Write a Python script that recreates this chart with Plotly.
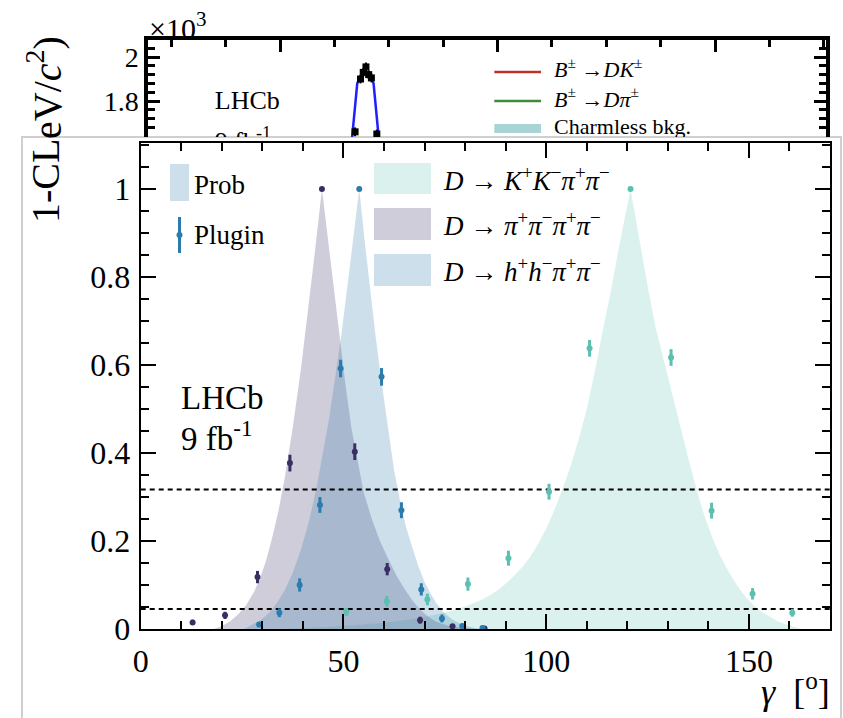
import plotly.graph_objects as go

W, H = 843, 718

# ---------------- main chart data (1-CL vs gamma) ----------------
# "Prob" curves
kk_gamma = [36, 44, 52, 60, 66, 72, 76, 80, 84, 86, 88, 90, 92, 94, 96, 98, 100, 102, 104, 106,
            108, 110, 112, 114, 116, 118, 120.8, 123, 125, 127, 129, 131, 133, 135, 137, 139,
            141, 143, 145, 147, 149, 151, 153, 155, 157, 159, 161, 163]
kk_cl = [0.0, 0.004, 0.008, 0.014, 0.021, 0.031, 0.040, 0.051, 0.066, 0.076, 0.088, 0.103, 0.120,
         0.140, 0.163, 0.193, 0.228, 0.270, 0.317, 0.37, 0.43, 0.50, 0.585, 0.68, 0.77, 0.87, 1.0,
         0.885, 0.78, 0.685, 0.61, 0.54, 0.46, 0.39, 0.32, 0.258, 0.207, 0.165, 0.13, 0.10, 0.075,
         0.055, 0.040, 0.028, 0.018, 0.011, 0.005, 0.0]

pp_gamma = [18, 20, 22, 24, 26, 28, 29.5, 31, 32.5, 34, 35.5, 37.5, 39.5, 41.5, 43, 44.7, 46,
            47.5, 49, 50.5, 52, 53.5, 55, 57, 59, 61, 63, 65, 67, 69, 71, 73, 76, 80, 83]
pp_cl = [0.0, 0.006, 0.017, 0.033, 0.054, 0.085, 0.117, 0.158, 0.21, 0.27, 0.342, 0.458, 0.59,
         0.74, 0.86, 1.0, 0.90, 0.79, 0.67, 0.555, 0.455, 0.38, 0.31, 0.25, 0.20, 0.16, 0.123,
         0.092, 0.065, 0.043, 0.027, 0.016, 0.007, 0.002, 0.0]

hh_gamma = [25.5, 27.5, 29.5, 31.5, 33.5, 35.5, 37.5, 39.5, 41.5, 43.3, 45, 46.5, 48, 49.5, 51,
            52.5, 53.9, 55.2, 56.5, 58, 59.5, 61, 62.5, 64, 65.5, 67, 68.5, 70, 71.5, 73, 74.5,
            76.5, 79, 82, 84]
hh_cl = [0.0, 0.010, 0.020, 0.035, 0.058, 0.088, 0.128, 0.18, 0.245, 0.317, 0.40, 0.48, 0.575,
         0.67, 0.78, 0.895, 1.0, 0.885, 0.775, 0.66, 0.555, 0.46, 0.36, 0.29, 0.23, 0.185, 0.142,
         0.107, 0.080, 0.058, 0.040, 0.024, 0.011, 0.003, 0.0]

# "Plugin" points
pp_pl_gamma = [12.8, 20.8, 28.8, 36.8, 44.7, 52.8, 60.8, 68.9, 76.9, 84.8]
pp_pl_cl = [0.015, 0.031, 0.118, 0.377, 1.0, 0.403, 0.136, 0.020, 0.006, 0.001]
pp_pl_err = [0.006, 0.008, 0.014, 0.019, 0.0, 0.019, 0.014, 0.008, 0.005, 0.003]

hh_pl_gamma = [29.2, 34.2, 39.2, 44.2, 49.3, 53.9, 59.4, 64.3, 69.2, 74.3, 79.3, 84.3]
hh_pl_cl = [0.010, 0.037, 0.100, 0.282, 0.592, 1.0, 0.573, 0.270, 0.090, 0.024, 0.007, 0.002]
hh_pl_err = [0.006, 0.010, 0.015, 0.018, 0.020, 0.0, 0.020, 0.018, 0.014, 0.009, 0.005, 0.003]

kk_pl_gamma = [50.7, 60.7, 70.7, 80.7, 90.7, 100.7, 110.7, 120.8, 130.8, 140.8, 150.9, 160.7]
kk_pl_cl = [0.039, 0.063, 0.067, 0.102, 0.161, 0.312, 0.638, 1.0, 0.617, 0.269, 0.080, 0.037]
kk_pl_err = [0.009, 0.012, 0.013, 0.015, 0.017, 0.018, 0.019, 0.0, 0.019, 0.018, 0.013, 0.009]

cl_levels = [0.3173, 0.0455]
gamma_span = [0, 170]

legend_labels = ["<i>D</i> → <i>K</i><sup>+</sup><i>K</i><sup>−</sup><i>π</i><sup>+</sup><i>π</i><sup>−</sup>",
                 "<i>D</i> → <i>π</i><sup>+</sup><i>π</i><sup>−</sup><i>π</i><sup>+</sup><i>π</i><sup>−</sup>",
                 "<i>D</i> → <i>h</i><sup>+</sup><i>h</i><sup>−</sup><i>π</i><sup>+</sup><i>π</i><sup>−</sup>"]

# ---------------- background (partly hidden) mass plot ----------------
bg_mass = [5269, 5274, 5276.5, 5279, 5281.5, 5284, 5289]
bg_yield = [1.66, 1.90, 1.93, 1.955, 1.92, 1.905, 1.65]
bg_yerr = [0.02, 0.02, 0.02, 0.02, 0.02, 0.02, 0.02]
fit_mass = [5258, 5266, 5271, 5276, 5281, 5286, 5291, 5298]
fit_yield = [1.30, 1.62, 1.88, 1.93, 1.93, 1.88, 1.62, 1.30]
bg_leg_labels = ["<i>B</i><sup>±</sup> →<i>DK</i><sup>±</sup>",
                 "<i>B</i><sup>±</sup> →<i>Dπ</i><sup>±</sup>",
                 "Charmless bkg."]
bg_leg_y = [1.932, 1.80, 1.675]

# colours
C_PP = "#3b2e63"
C_HH = "#2b7bad"
C_KK = "#5bc0b0"
F_PP = "rgba(59,46,99,0.24)"
F_HH = "rgba(43,123,173,0.24)"
F_KK = "rgba(91,192,176,0.22)"

SERIF = "Liberation Serif"

fig = go.Figure()

# ---- background chart (xy) ----
fig.add_trace(go.Scatter(x=fit_mass, y=fit_yield, mode="lines",
                         line=dict(color="#1f1fff", width=2.5), xaxis="x", yaxis="y",
                         showlegend=False, hoverinfo="skip"))
fig.add_trace(go.Scatter(x=bg_mass, y=bg_yield, mode="markers",
                         marker=dict(symbol="square", size=7, color="black"),
                         error_y=dict(type="data", array=bg_yerr, color="black", thickness=2, width=0),
                         xaxis="x", yaxis="y", showlegend=False, hoverinfo="skip"))
leg_x = [5397, 5440]
for yv, col, wd in zip(bg_leg_y, ["#c0302b", "#3c8c3a", "#a9d4d6"], [2.5, 2.5, 9]):
    fig.add_trace(go.Scatter(x=leg_x, y=[yv, yv], mode="lines", line=dict(color=col, width=wd),
                             xaxis="x", yaxis="y", showlegend=False, hoverinfo="skip"))
fig.add_trace(go.Scatter(x=[5452] * 3, y=bg_leg_y, mode="text", text=bg_leg_labels,
                         textposition="middle right",
                         textfont=dict(family=SERIF, size=22, color="black"),
                         xaxis="x", yaxis="y", showlegend=False, hoverinfo="skip"))
fig.add_trace(go.Scatter(x=[5140, 5140], y=[1.792, 1.605], mode="text",
                         text=["LHCb", "9 fb<sup>-1</sup>"], textposition="middle right",
                         textfont=dict(family=SERIF, size=26, color="black"),
                         xaxis="x", yaxis="y", showlegend=False, hoverinfo="skip"))

# ---- main chart (x2y2) ----
for g, c, f in [(kk_gamma, kk_cl, F_KK), (pp_gamma, pp_cl, F_PP), (hh_gamma, hh_cl, F_HH)]:
    fig.add_trace(go.Scatter(x=g, y=c, mode="lines", fill="tozeroy", fillcolor=f,
                             line=dict(width=0, color=f), xaxis="x2", yaxis="y2",
                             showlegend=False, hoverinfo="skip"))
for lv in cl_levels:
    fig.add_trace(go.Scatter(x=gamma_span, y=[lv, lv], mode="lines",
                             line=dict(color="black", width=2, dash="5px,4px"),
                             xaxis="x2", yaxis="y2", showlegend=False, hoverinfo="skip"))
for g, c, e, col in [(kk_pl_gamma, kk_pl_cl, kk_pl_err, C_KK),
                     (pp_pl_gamma, pp_pl_cl, pp_pl_err, C_PP),
                     (hh_pl_gamma, hh_pl_cl, hh_pl_err, C_HH)]:
    fig.add_trace(go.Scatter(x=g, y=c, mode="markers",
                             marker=dict(size=6, color=col),
                             error_y=dict(type="data", array=e, color=col, thickness=3, width=0),
                             xaxis="x2", yaxis="y2", showlegend=False, hoverinfo="skip"))

# the page renders the paper at an 8 px left offset over an 835 x 700 area
OX, PW, PH = 8.0, 835.0, 700.0


def px(x):
    return (x - OX) / PW


def py(y):
    return 1 - y / PH


shapes = [
    # white panel of the front figure
    dict(type="rect", xref="paper", yref="paper", x0=px(22), x1=px(841), y0=py(760), y1=py(137),
         fillcolor="white", line=dict(color="#cfcfcf", width=2), layer="below"),
    # legend: Prob box
    dict(type="rect", xref="paper", yref="paper", x0=px(170), x1=px(189), y0=py(201), y1=py(164),
         fillcolor=F_HH, line=dict(width=0)),
    # legend: Plugin bar + dot
    dict(type="line", xref="paper", yref="paper", x0=px(179.5), x1=px(179.5), y0=py(253), y1=py(217),
         line=dict(color=C_HH, width=3)),
    dict(type="circle", xref="paper", yref="paper", x0=px(176.5), x1=px(182.5), y0=py(238), y1=py(232),
         fillcolor=C_HH, line=dict(width=0)),
]
box_rows = [(163, 194), (208, 240), (254, 286)]
for (t, b), fcol in zip(box_rows, [F_KK, F_PP, F_HH]):
    shapes.append(dict(type="rect", xref="paper", yref="paper", x0=px(374), x1=px(431),
                       y0=py(b), y1=py(t), fillcolor=fcol, line=dict(width=0)))

annotations = [
    dict(text="×10<sup>3</sup>", x=px(147), y=py(26), xanchor="left", yanchor="middle",
         font=dict(family=SERIF, size=30, color="black")),
    dict(text="eV/<i>c</i><sup>2</sup>)", x=px(45), y=py(88), textangle=-90,
         xanchor="center", yanchor="middle", font=dict(family=SERIF, size=40, color="black")),
    dict(text="1-CL", x=px(45), y=py(181), textangle=-90,
         xanchor="center", yanchor="middle", font=dict(family=SERIF, size=40, color="black")),
    dict(text="Prob", x=px(192), y=py(185), xanchor="left", yanchor="middle",
         font=dict(family=SERIF, size=27, color="black")),
    dict(text="Plugin", x=px(192), y=py(235), xanchor="left", yanchor="middle",
         font=dict(family=SERIF, size=27, color="black")),
    dict(text="LHCb", x=px(179), y=py(398), xanchor="left", yanchor="middle",
         font=dict(family=SERIF, size=33, color="black")),
    dict(text="9 fb<sup>-1</sup>", x=px(179), y=py(436), xanchor="left", yanchor="middle",
         font=dict(family=SERIF, size=33, color="black")),
    dict(text="<i>γ</i>&nbsp;&nbsp;[<sup>o</sup>]", x=px(832), y=py(689), xanchor="right",
         yanchor="middle", font=dict(family=SERIF, size=36, color="black")),
]
for lab, (t, b) in zip(legend_labels, box_rows):
    annotations.append(dict(text=lab, x=px(441), y=py((t + b) / 2), xanchor="left", yanchor="middle",
                            font=dict(family=SERIF, size=27, color="black")))
for a in annotations:
    a.update(xref="paper", yref="paper", showarrow=False)

axis_common = dict(showgrid=False, zeroline=False, showline=True, linecolor="black",
                   ticks="inside", tickcolor="black")

fig.update_layout(
    width=W, height=H, margin=dict(l=0, r=0, t=0, b=0),
    paper_bgcolor="white", plot_bgcolor="rgba(0,0,0,0)",
    showlegend=False,
    xaxis=dict(**axis_common, domain=[px(148), px(826)], range=[5078.6, 5702], anchor="y",
               side="top", linewidth=3.5, ticklen=12, tickwidth=2.5, tick0=5000, dtick=200,
               showticklabels=False,
               minor=dict(ticks="inside", ticklen=7, tickwidth=2.5, dtick=50, tickcolor="black")),
    yaxis=dict(**axis_common, domain=[py(137), py(40)], range=[1.6364, 2.0773], anchor="x",
               mirror="ticks", linewidth=3.5, ticklen=12, tickwidth=2.5, tick0=0, dtick=0.2,
               ticklabelstandoff=0,
               tickfont=dict(family=SERIF, size=28, color="black"),
               minor=dict(ticks="inside", ticklen=7, tickwidth=2.5, dtick=0.04, tickcolor="black")),
    xaxis2=dict(**axis_common, domain=[px(140.7), px(830)], range=[0, 170], anchor="y2",
                mirror="ticks", linewidth=2.2, ticklen=15, tickwidth=2, tick0=0, dtick=50,
                ticklabelstandoff=2,
                tickfont=dict(family=SERIF, size=32, color="black"),
                minor=dict(ticks="inside", ticklen=8, tickwidth=2, dtick=10, tickcolor="black")),
    yaxis2=dict(**axis_common, domain=[py(629), py(143)], range=[0, 1.1045], anchor="x2",
                mirror="ticks", linewidth=2.2, ticklen=15, tickwidth=2, tick0=0, dtick=0.2,
                ticklabelstandoff=2,
                tickfont=dict(family=SERIF, size=32, color="black"),
                minor=dict(ticks="inside", ticklen=8, tickwidth=2, dtick=0.05, tickcolor="black")),
    shapes=shapes,
    annotations=annotations,
)

fig.write_html("out.html")
